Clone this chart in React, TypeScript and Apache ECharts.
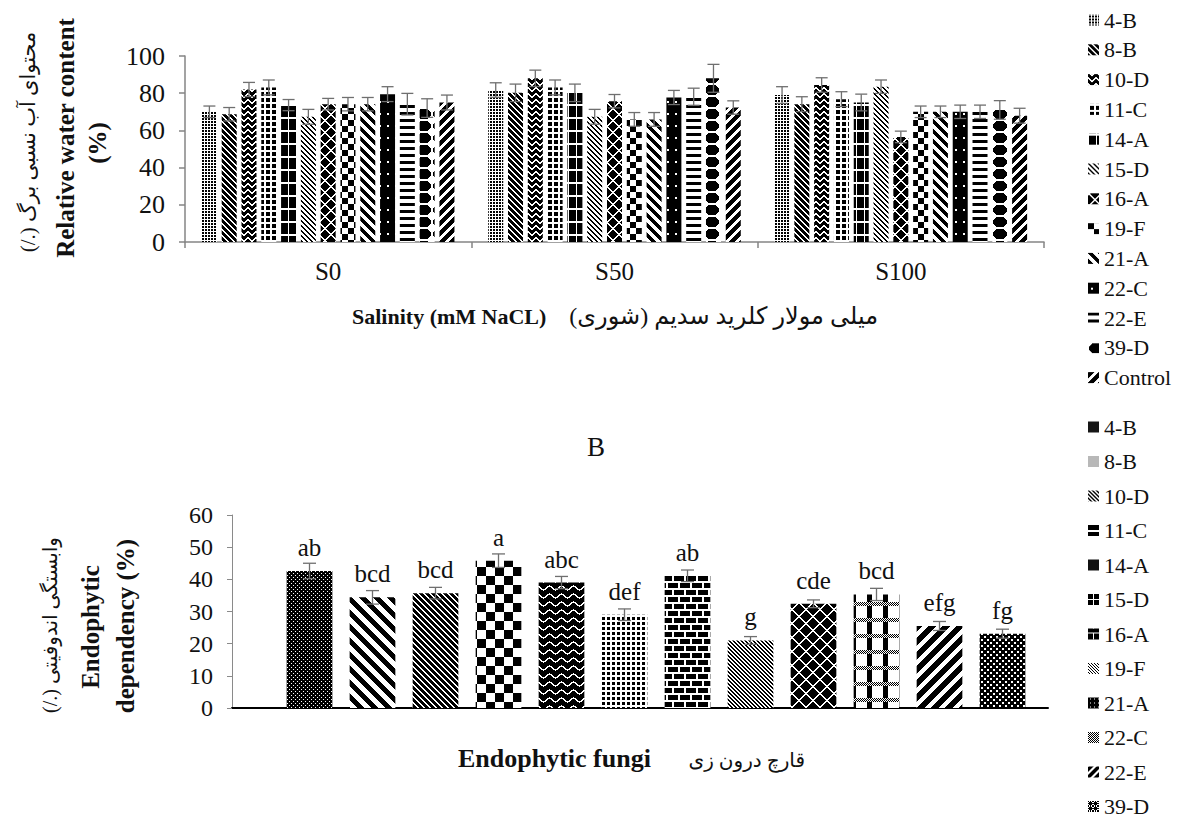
import React, { useEffect, useRef } from 'react';
import * as echarts from 'echarts';

// ---------- data ----------
const salinityLevels = ['S0', 'S50', 'S100'];
const rwcGroups = ['4-B', '8-B', '10-D', '11-C', '14-A', '15-D', '16-A', '19-F', '21-A', '22-C', '22-E', '39-D', 'Control'];
const rwcS0 = [70.0, 68.7, 82.0, 83.1, 73.6, 67.3, 74.1, 74.1, 74.1, 79.5, 74.1, 72.0, 75.0];
const rwcS50 = [81.7, 80.2, 88.0, 83.1, 80.2, 67.3, 75.7, 65.9, 65.9, 77.7, 78.1, 88.0, 72.3];
const rwcS100 = [79.0, 74.1, 84.4, 76.8, 75.0, 83.5, 56.5, 70.0, 70.0, 70.0, 70.0, 71.0, 67.9];
const rwcErrS0 = [3.1, 3.6, 3.8, 4.0, 3.0, 4.0, 3.1, 3.6, 3.6, 4.0, 5.8, 5.0, 4.0];
const rwcErrS50 = [3.9, 4.7, 4.4, 4.0, 4.7, 4.0, 3.6, 3.7, 3.7, 3.8, 4.6, 7.5, 3.6];
const rwcErrS100 = [4.5, 4.0, 3.9, 4.0, 4.5, 3.6, 3.1, 3.1, 3.1, 3.6, 3.6, 5.0, 4.0];

const fungi = ['4-B', '8-B', '10-D', '11-C', '14-A', '15-D', '16-A', '19-F', '21-A', '22-C', '22-E', '39-D'];
const dependency = [42.6, 34.4, 35.7, 45.8, 39.0, 29.0, 41.1, 21.0, 32.4, 35.3, 25.5, 23.1];
const dependencyErr = [2.4, 2.1, 1.8, 2.1, 1.9, 1.8, 1.8, 1.2, 1.2, 1.9, 1.4, 1.4];
const letters = ['ab', 'bcd', 'bcd', 'a', 'abc', 'def', 'ab', 'g', 'cde', 'bcd', 'efg', 'fg'];

const RLM = '\u200F';
const faRwc = 'محتوای آب نسبی برگ (./)' + RLM;
const faSalinity = 'میلی مولار کلرید سدیم (شوری)' + RLM;
const faDependency = 'وابستگی اندوفیتی (./)' + RLM;
const faFungi = 'قارچ درون زی';

const SERIF = 'Liberation Serif, Times New Roman, serif';
const FA_FONT = 'Liberation Serif, DejaVu Sans, sans-serif';

// ---------- patterns ----------
function pix(w: number, h: number, f: (x: number, y: number) => boolean | number) {
  const cv = document.createElement('canvas');
  cv.width = w;
  cv.height = h;
  const c = cv.getContext('2d')!;
  const img = c.createImageData(w, h);
  for (let y = 0; y < h; y++) {
    for (let x = 0; x < w; x++) {
      const v = f(x, y);
      const g = typeof v === 'number' ? v : v ? 0 : 255;
      const i = (y * w + x) * 4;
      img.data[i] = g;
      img.data[i + 1] = g;
      img.data[i + 2] = g;
      img.data[i + 3] = 255;
    }
  }
  c.putImageData(img, 0, 0);
  return { image: cv, repeat: 'repeat', imageWidth: w, imageHeight: h } as any;
}

function topPatterns() {
  return [
    pix(3, 3, (x, y) => x > 0 && y > 0),
    pix(6, 6, (x, y) => (x - y + 12) % 6 < 4),
    pix(8, 6, (x, y) => (y + Math.round(Math.abs(x - 3.5) * 0.8)) % 6 >= 2),
    pix(6, 6, (x, y) => x >= 2 && y >= 2),
    pix(8, 13, (x, y) => !(x === 0 || y === 0 || y === 1)),
    pix(5, 5, (x, y) => (x - y + 10) % 5 < 2),
    pix(12, 12, (x, y) => !((x + y) % 12 < 2 || (x - y + 12) % 12 < 2)),
    pix(12, 12, (x, y) => (Math.floor(x / 6) + Math.floor(y / 6)) % 2 === 0),
    pix(10, 10, (x, y) => (x - y + 20) % 10 < 5),
    pix(8, 12, (x, y) => !((x === 3 || x === 4) && (y === 5 || y === 6))),
    pix(1, 7, (x, y) => y < 3),
    pix(16, 12, (x, y) => ((x - 7.5) ** 2) / 49 + ((y - 5.5) ** 2) / 30 < 1),
    pix(10, 10, (x, y) => (x + y) % 10 < 6),
  ];
}

function bottomPatterns() {
  return [
    pix(4, 4, (x, y) => !((x === 1 && y === 1) || (x === 3 && y === 3))),
    pix(14, 14, (x, y) => (x - y + 28) % 14 < 7),
    pix(6, 6, (x, y) => (x - y + 12) % 6 < 4),
    pix(18, 18, (x, y) => (Math.floor(x / 9) + Math.floor(y / 9)) % 2 === 0),
    pix(12, 8, (x, y) => Math.abs(y - (3.5 + 1.8 * Math.sin((2 * Math.PI * x) / 12))) > 0.9),
    pix(5, 5, (x, y) => x >= 2 && y >= 2),
    pix(12, 14, (x, y) => {
      if (y % 7 < 2) return false;
      const r = Math.floor(y / 7);
      const xm = x % 12;
      if (r === 0) return !(xm === 0 || xm === 1);
      return !(xm === 6 || xm === 7);
    }),
    pix(4, 4, (x, y) => (x - y + 8) % 4 < 2),
    pix(14, 14, (x, y) => !((x + y) % 14 < 2 || (x - y + 14) % 14 < 2)),
    pix(16, 16, (x, y) => {
      const inH = y >= 10 && y < 14;
      const inV = x >= 3 && x < 8;
      if (inH) return (x + y) % 2 === 0;
      return inV;
    }),
    pix(14, 14, (x, y) => (x + y) % 14 < 8),
    pix(6, 6, (x, y) => !((x % 6 < 2 && y % 6 < 2) || ((x + 3) % 6 < 2 && (y + 3) % 6 < 2))),
  ];
}

function bottomLegendIcons() {
  return [
    '#161616',
    '#b8b8b8',
    pix(4, 4, (x, y) => (x - y + 8) % 4 < 2),
    pix(1, 11, (x, y) => !(y === 5 || y === 6)),
    '#111111',
    pix(11, 11, (x, y) => !(x === 5 || y === 5)),
    pix(11, 11, (x, y) => !(y === 4 || (y > 4 && x === 5))),
    pix(3, 3, (x, y) => (x - y + 6) % 3 < 1),
    pix(4, 4, (x, y) => !(x === 2 && y === 1)),
    pix(2, 2, (x, y) => (x + y) % 2 === 0),
    pix(8, 8, (x, y) => (x + y) % 8 < 5),
    pix(5, 5, (x, y) => x === 2 || y === 2 || x === y || x + y === 4),
  ];
}

// ---------- option ----------
const CAT_GAP = 0.118;
const BAR_GAP = 0.32;
const ERR_COLOR = '#6f6f6f';

function errorShape(x: number, yTop: number, yBot: number, cap: number) {
  const style = { stroke: ERR_COLOR, lineWidth: 1.3 };
  return {
    type: 'group',
    children: [
      { type: 'line', shape: { x1: x, y1: yTop, x2: x, y2: yBot }, style },
      { type: 'line', shape: { x1: x - cap / 2, y1: yTop, x2: x + cap / 2, y2: yTop }, style },
      { type: 'line', shape: { x1: x - cap / 2, y1: yBot, x2: x + cap / 2, y2: yBot }, style },
    ],
  };
}

function rotatedText(text: string, x: number, y: number, size: number, bold: boolean, font = SERIF) {
  return {
    type: 'text',
    x,
    y,
    rotation: Math.PI / 2,
    style: {
      text,
      font: (bold ? 'bold ' : '') + size + 'px ' + font,
      fill: '#111',
      align: 'center',
      verticalAlign: 'middle',
      textAlign: 'center',
      textVerticalAlign: 'middle',
    },
  };
}

function flatText(text: string, x: number, y: number, size: number, bold: boolean, align: string, font = SERIF) {
  return {
    type: 'text',
    x,
    y,
    style: {
      text,
      font: (bold ? 'bold ' : '') + size + 'px ' + font,
      fill: '#111',
      align,
      verticalAlign: 'middle',
      textAlign: align,
      textVerticalAlign: 'middle',
    },
  };
}

function buildOption() {
  const tp = topPatterns();
  const bp = bottomPatterns();
  const bl = bottomLegendIcons();
  const rwcByLevel = [rwcS0, rwcS50, rwcS100];
  const errByLevel = [rwcErrS0, rwcErrS50, rwcErrS100];
  const N = rwcGroups.length;

  const topBars = rwcGroups.map((g, k) => ({
    type: 'bar',
    name: g,
    xAxisIndex: 0,
    yAxisIndex: 0,
    data: rwcByLevel.map((arr) => arr[k]),
    barGap: BAR_GAP * 100 + '%',
    barCategoryGap: CAT_GAP * 100 + '%',
    itemStyle: { color: tp[k] },
    z: 2,
  }));

  const topErrData: number[][] = [];
  rwcGroups.forEach((_, k) => {
    salinityLevels.forEach((__, c) => {
      topErrData.push([c, k, rwcByLevel[c][k], errByLevel[c][k]]);
    });
  });

  const topErr = {
    type: 'custom',
    xAxisIndex: 0,
    yAxisIndex: 0,
    z: 5,
    encode: { x: 0, y: 2 },
    data: topErrData,
    renderItem: (params: any, api: any) => {
      const c = api.value(0);
      const k = api.value(1);
      const v = api.value(2);
      const e = api.value(3);
      const band = api.size([1, 0])[0];
      const usable = band * (1 - CAT_GAP);
      const w = usable / (N + (N - 1) * BAR_GAP);
      const cx = api.coord([c, 0])[0] - usable / 2 + k * w * (1 + BAR_GAP) + w / 2;
      const yt = api.coord([c, v + e])[1];
      const yb = api.coord([c, v - e])[1];
      return errorShape(cx, yt, yb, 12);
    },
  };

  const bottomBars = fungi.map((f, k) => ({
    type: 'bar',
    name: 'b:' + f,
    xAxisIndex: 2,
    yAxisIndex: 2,
    stack: 'dep',
    data: dependency.map((v, i) => (i === k ? v : '-')),
    barCategoryGap: '27.5%',
    itemStyle: { color: bp[k] },
    label: {
      show: true,
      position: 'top',
      distance: 11,
      formatter: letters[k],
      fontSize: 25,
      fontFamily: SERIF,
      color: '#111',
    },
    z: 2,
  }));

  const bottomErr = {
    type: 'custom',
    xAxisIndex: 2,
    yAxisIndex: 2,
    z: 5,
    encode: { x: 0, y: 1 },
    data: dependency.map((v, i) => [i, v, dependencyErr[i]]),
    renderItem: (params: any, api: any) => {
      const i = api.value(0);
      const v = api.value(1);
      const e = api.value(2);
      const cx = api.coord([i, 0])[0];
      return errorShape(cx, api.coord([i, v + e])[1], api.coord([i, v - e])[1], 13);
    },
  };

  const grayAxis = { color: '#858585', width: 1.5 };
  const legendText = { fontSize: 22, lineHeight: 22, fontFamily: SERIF, color: '#111' };

  return {
    animation: false,
    backgroundColor: '#fff',
    textStyle: { fontFamily: SERIF },
    grid: [
      { left: 185, top: 56, width: 859, height: 186 },
      { left: 232, top: 515, width: 816, height: 193 },
      { left: 278, top: 515, width: 756, height: 193 },
    ],
    xAxis: [
      {
        gridIndex: 0,
        type: 'category',
        data: salinityLevels,
        axisLine: { lineStyle: grayAxis },
        axisTick: { show: true, length: 6, lineStyle: grayAxis },
        axisLabel: { margin: 17, fontSize: 25, fontFamily: SERIF, color: '#111' },
      },
      {
        gridIndex: 1,
        type: 'category',
        data: [''],
        axisLine: { lineStyle: { color: '#000', width: 2 } },
        axisTick: { show: false },
        axisLabel: { show: false },
      },
      { gridIndex: 2, type: 'category', data: fungi, show: false },
    ],
    yAxis: [
      {
        gridIndex: 0,
        type: 'value',
        min: 0,
        max: 100,
        interval: 20,
        axisLine: { show: true, lineStyle: grayAxis },
        axisTick: { show: true, length: 6, lineStyle: grayAxis },
        splitLine: { show: false },
        axisLabel: { margin: 20, fontSize: 26, fontFamily: SERIF, color: '#111' },
      },
      {
        gridIndex: 1,
        type: 'value',
        min: 0,
        max: 60,
        interval: 10,
        axisLine: { show: true, lineStyle: { color: '#8a8a8a', width: 1 } },
        axisTick: { show: true, length: 5, lineStyle: { color: '#8a8a8a', width: 1 } },
        splitLine: { show: false },
        axisLabel: { margin: 19, fontSize: 24, fontFamily: SERIF, color: '#111' },
      },
      { gridIndex: 2, type: 'value', min: 0, max: 60, interval: 10, show: false, splitLine: { show: false } },
    ],
    legend: [
      {
        data: rwcGroups,
        orient: 'vertical',
        left: 1088,
        top: 9,
        height: 400,
        itemWidth: 11,
        itemHeight: 11,
        itemGap: 7.8,
        icon: 'rect',
        padding: 0,
        selectedMode: false,
        textStyle: legendText,
      },
      {
        data: fungi.map((f, i) => ({ name: 'b:' + f, itemStyle: { color: bl[i] } })),
        orient: 'vertical',
        left: 1088,
        top: 416,
        height: 412,
        itemWidth: 11,
        itemHeight: 11,
        itemGap: 12.5,
        icon: 'rect',
        padding: 0,
        selectedMode: false,
        formatter: (n: string) => n.slice(2),
        textStyle: legendText,
      },
    ],
    graphic: [
      rotatedText(faRwc, 28, 142, 21, false, FA_FONT),
      rotatedText('Relative water content', 65, 138, 25, true),
      rotatedText('(%)', 97, 143, 25, true),
      flatText('Salinity (mM NaCL)', 352, 316, 22, true, 'left'),
      flatText(faSalinity, 878, 316, 24, false, 'right', FA_FONT),
      flatText('B', 596, 447, 27, false, 'center'),
      rotatedText(faDependency, 50, 625, 20, false, FA_FONT),
      rotatedText('Endophytic', 90, 627, 25, true),
      rotatedText('dependency (%)', 125, 626, 25, true),
      flatText('Endophytic fungi', 458, 758, 26, true, 'left'),
      flatText(faFungi, 805, 760, 20, false, 'right', FA_FONT),
    ],
    series: [...topBars, topErr, ...bottomBars, bottomErr],
  };
}

export default function App() {
  const ref = useRef<HTMLDivElement>(null);
  useEffect(() => {
    const chart = echarts.init(ref.current!, null, { renderer: 'svg' });
    chart.setOption(buildOption() as any);
    return () => chart.dispose();
  }, []);
  return (
    <div
      ref={ref}
      style={{ position: 'fixed', left: 0, top: 0, width: 1179, height: 829, background: '#fff' }}
    />
  );
}
